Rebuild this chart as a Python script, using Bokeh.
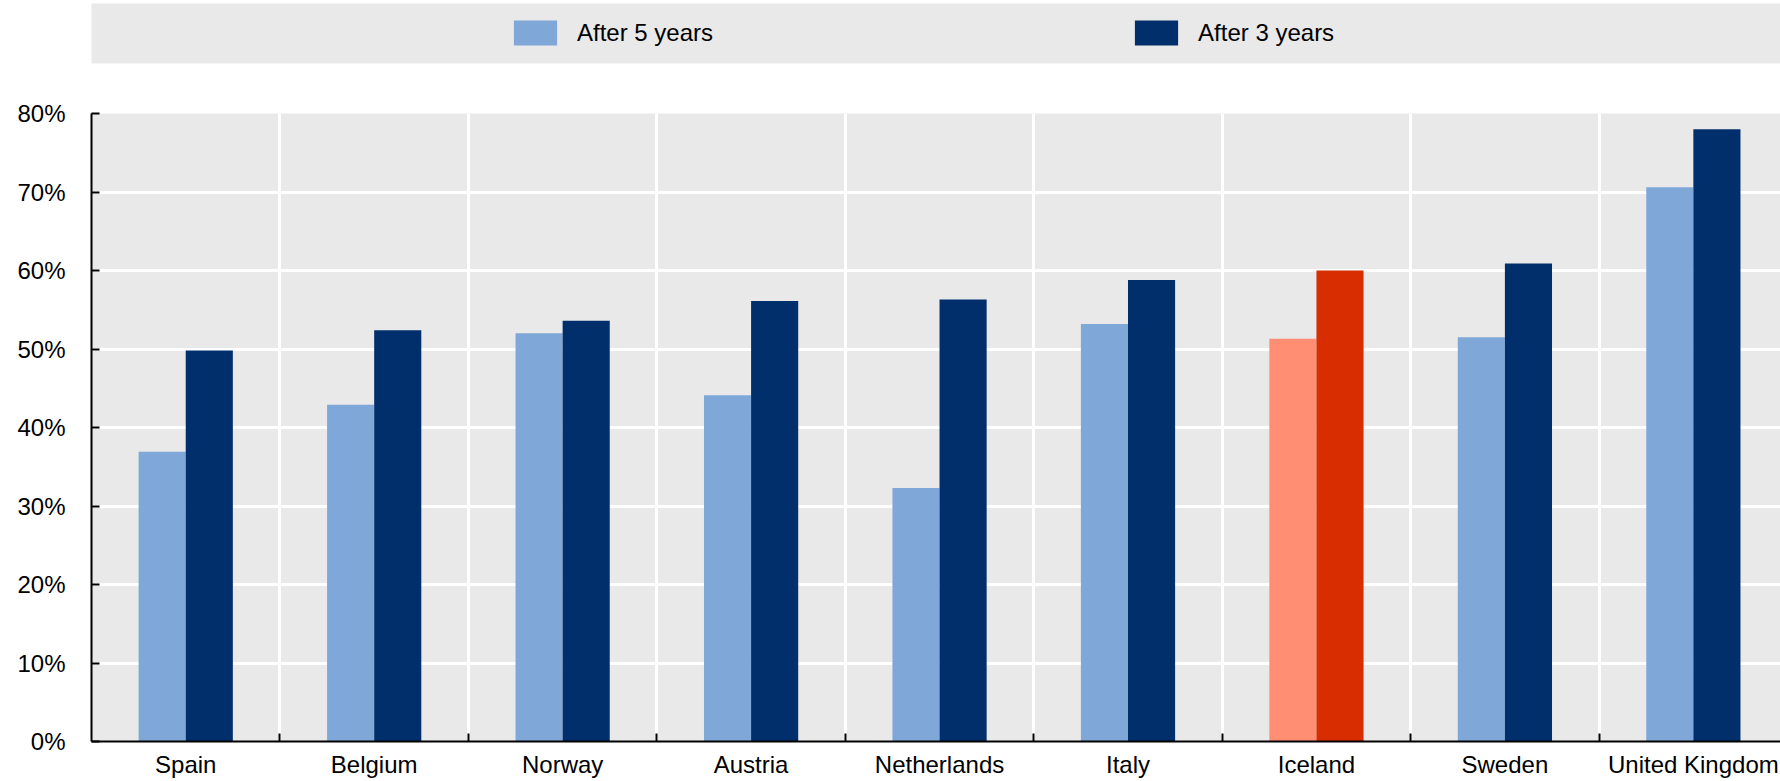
from bokeh.plotting import figure
from bokeh.models import (Range1d, FixedTicker, Legend, LegendItem,
                          ColumnDataSource, PrintfTickFormatter)
from bokeh.transform import dodge
from bokeh.layouts import column
from bokeh.embed import file_html
from bokeh.resources import INLINE

# ---------------- data ----------------
countries = ["Spain", "Belgium", "Norway", "Austria", "Netherlands",
             "Italy", "Iceland", "Sweden", "United Kingdom"]
after_5_years = [36.9, 42.9, 52.0, 44.1, 32.3, 53.2, 51.3, 51.5, 70.6]
after_3_years = [49.8, 52.4, 53.6, 56.1, 56.3, 58.8, 60.0, 60.9, 78.0]
y_ticks = [0, 10, 20, 30, 40, 50, 60, 70, 80]
series_labels = ["After 5 years", "After 3 years"]
highlight = "Iceland"

# ---------------- style ----------------
LIGHT = "#7FA8D9"
DARK = "#002F6C"
HL_LIGHT = "#FF8E72"
HL_DARK = "#D82D00"
BG = "#E9E9E9"
FONT = "'Liberation Sans', Arial, sans-serif"

TOTAL_W = 1780
LEFT = 87
CAT_PX = 188.9
n = len(countries)
x_end = (TOTAL_W - LEFT) / CAT_PX

centers = [i + 0.5 for i in range(n)]
boundaries = [float(i) for i in range(1, n)]

src = ColumnDataSource(dict(
    center=centers,
    country=countries,
    a5=after_5_years,
    a3=after_3_years,
    c5=[HL_LIGHT if c == highlight else LIGHT for c in countries],
    c3=[HL_DARK if c == highlight else DARK for c in countries],
))

# ---------------- legend strip ----------------
lg = figure(width=TOTAL_W, height=64, x_range=Range1d(0, 1), y_range=Range1d(0, 1),
            output_backend="svg", toolbar_location=None,
            x_axis_location=None, y_axis_location=None,
            min_border_left=91, min_border_right=0, min_border_top=3, min_border_bottom=1,
            background_fill_color=BG, border_fill_color="white", outline_line_color=None)
lg.grid.visible = False
# swatch-only renderers (zero-height bars, nothing visible in the strip)
r5 = lg.vbar(x=[0.5], top=[0], width=0.1, fill_color=LIGHT, line_color=None)
r3 = lg.vbar(x=[0.5], top=[0], width=0.1, fill_color=DARK, line_color=None)
legend = Legend(items=[LegendItem(label=series_labels[0], renderers=[r5]),
                       LegendItem(label=series_labels[1], renderers=[r3])],
                orientation="horizontal", location=(417, 15), spacing=416,
                glyph_width=54, glyph_height=31, label_standoff=15,
                label_text_font_size="24px", label_text_font=FONT,
                label_text_color="black", label_text_baseline="middle",
                background_fill_alpha=0, border_line_alpha=0, padding=0, margin=0)
lg.add_layout(legend)

# ---------------- main chart ----------------
p = figure(width=TOTAL_W, height=717, x_range=Range1d(0, x_end), y_range=Range1d(0, 80),
           output_backend="svg", toolbar_location=None,
           min_border_left=LEFT, min_border_right=0, min_border_top=49, min_border_bottom=40,
           background_fill_color=BG, border_fill_color="white", outline_line_color=None)

p.vbar(x=dodge("center", -0.125, range=p.x_range), top="a5", width=0.25,
       source=src, fill_color="c5", line_color=None)
p.vbar(x=dodge("center", 0.125, range=p.x_range), top="a3", width=0.25,
       source=src, fill_color="c3", line_color=None)

# x axis: labels at centres, small ticks at category boundaries
p.xaxis.ticker = FixedTicker(ticks=centers, minor_ticks=boundaries)
p.xaxis.major_label_overrides = {c: name for c, name in zip(centers, countries)}
p.xaxis.major_tick_in = 0
p.xaxis.major_tick_out = 0
p.xaxis.minor_tick_in = 8
p.xaxis.minor_tick_out = 0
p.xaxis.minor_tick_line_width = 2
p.xaxis.minor_tick_line_color = "black"
p.xaxis.axis_line_width = 2
p.xaxis.axis_line_color = "black"
p.xaxis.major_label_text_font = FONT
p.xaxis.major_label_text_font_size = "24px"
p.xaxis.major_label_text_color = "black"
p.xaxis.major_label_standoff = 9

# y axis
p.yaxis.ticker = FixedTicker(ticks=y_ticks, minor_ticks=[])
p.yaxis.formatter = PrintfTickFormatter(format="%d%%")
p.yaxis.major_tick_in = 8
p.yaxis.major_tick_out = 0
p.yaxis.major_tick_line_width = 2
p.yaxis.major_tick_line_color = "black"
p.yaxis.minor_tick_line_color = None
p.yaxis.axis_line_width = 2
p.yaxis.axis_line_color = "black"
p.yaxis.major_label_text_font = FONT
p.yaxis.major_label_text_font_size = "24px"
p.yaxis.major_label_text_color = "black"
p.yaxis.major_label_standoff = 26

# grids
p.xgrid.ticker = FixedTicker(ticks=boundaries)
p.xgrid.grid_line_color = "white"
p.xgrid.grid_line_width = 3
p.ygrid.grid_line_color = "white"
p.ygrid.grid_line_width = 3

layout = column(lg, p, spacing=0)
open("out.html", "w").write(file_html(layout, INLINE))
